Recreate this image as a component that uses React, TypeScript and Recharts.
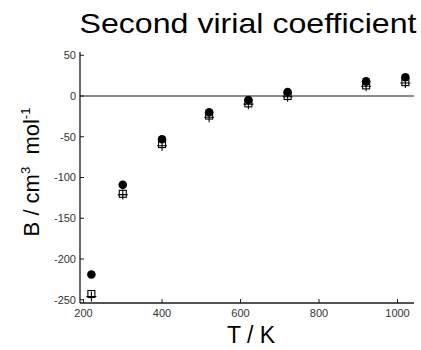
import React from 'react';
import { ScatterChart, Scatter, XAxis, YAxis, ReferenceLine } from 'recharts';

// temperatures (K) and second virial coefficients (cm3/mol)
const temps = [220, 300, 400, 520, 620, 720, 920, 1020];
const circleVals = [-219, -109, -53, -20, -5, 5, 18, 23];
const squareVals = [-243, -120, -59, -24, -9, 0, 13, 17];
const plusVals = [-246, -121, -61, -26, -10, -1, 12, 16];

const xTicks = [200, 400, 600, 800, 1000];
const yTicks = [50, 0, -50, -100, -150, -200, -250];

const W = 421;
const H = 350;
const INK = '#1a1a1a';
const TICK_LEN = 4;

const toPoints = (vals: number[]) => temps.map((t, i) => ({ T: t, B: vals[i] }));

const BottomTick = (props: any) => {
  const { x, y, payload } = props;
  return (
    <g>
      <line x1={x} y1={y - 6} x2={x} y2={y - 6 - TICK_LEN} stroke={INK} />
      <text x={x} y={y} dy="0.71em" textAnchor="middle" fontSize={11} fill="#333">
        {payload.value}
      </text>
    </g>
  );
};

const TopTick = (props: any) => {
  const { x, y } = props;
  return <line x1={x} y1={y} x2={x} y2={y + TICK_LEN} stroke={INK} />;
};

const LeftTick = (props: any) => {
  const { x, y, payload } = props;
  return (
    <g>
      <line x1={x + 4} y1={y} x2={x + 4 + TICK_LEN} y2={y} stroke={INK} />
      <text x={x} y={y} dy="0.35em" textAnchor="end" fontSize={11} fill="#333">
        {payload.value}
      </text>
    </g>
  );
};

const RightTick = (props: any) => {
  const { x, y } = props;
  return <line x1={x} y1={y} x2={x - TICK_LEN} y2={y} stroke={INK} />;
};

const Dot = (props: any) => <circle cx={props.cx} cy={props.cy} r={4.3} fill="#000" />;

const Square = (props: any) => (
  <rect x={props.cx - 3.5} y={props.cy - 3.5} width={7} height={7} fill="none" stroke="#000" strokeWidth={1.1} />
);

const Plus = (props: any) => (
  <path
    d={`M${props.cx - 5},${props.cy}H${props.cx + 5}M${props.cx},${props.cy - 5}V${props.cy + 5}`}
    stroke="#000"
    strokeWidth={1.1}
  />
);

export default function App() {
  return (
    <div style={{ position: 'absolute', left: 0, top: 0, width: W, height: H, background: '#fff', fontFamily: 'Liberation Sans, Arial, sans-serif' }}>
      <ScatterChart width={W} height={H} margin={{ top: 52, right: 7, bottom: 0, left: 0 }}>
        <XAxis
          type="number"
          dataKey="T"
          domain={[191, 1042]}
          ticks={xTicks}
          height={47}
          tickSize={0}
          tickMargin={6}
          tick={<BottomTick />}
          axisLine={{ stroke: INK, strokeWidth: 1.3 }}
        />
        <XAxis
          xAxisId="top"
          orientation="top"
          type="number"
          domain={[191, 1042]}
          ticks={xTicks}
          height={0}
          tickSize={0}
          tickMargin={0}
          tick={<TopTick />}
          axisLine={{ stroke: INK, strokeWidth: 1.3 }}
        />
        <YAxis
          type="number"
          dataKey="B"
          domain={[-254, 54]}
          ticks={yTicks}
          width={80}
          tickSize={0}
          tickMargin={4}
          tick={<LeftTick />}
          axisLine={{ stroke: INK, strokeWidth: 1.3 }}
        />
        <YAxis
          yAxisId="right"
          orientation="right"
          type="number"
          domain={[-254, 54]}
          ticks={yTicks}
          width={0}
          tickSize={0}
          tickMargin={0}
          tick={<RightTick />}
          axisLine={{ stroke: INK, strokeWidth: 1.3 }}
        />
        <ReferenceLine y={0} stroke={INK} strokeWidth={1.2} />
        <Scatter data={toPoints(plusVals)} shape={<Plus />} isAnimationActive={false} />
        <Scatter data={toPoints(squareVals)} shape={<Square />} isAnimationActive={false} />
        <Scatter data={toPoints(circleVals)} shape={<Dot />} isAnimationActive={false} />
      </ScatterChart>
      <svg width={W} height={H} style={{ position: 'absolute', left: 0, top: 0, pointerEvents: 'none' }}>
        <text x={248} y={33} textAnchor="middle" fontSize={28} fill="#000" textLength={337} lengthAdjust="spacingAndGlyphs">
          Second virial coefficient
        </text>
        <text
          transform="translate(39,172) rotate(-90)"
          textAnchor="middle"
          fontSize={22}
          fill="#000"
        >
          B / cm<tspan fontSize={13} dy={-9}>3</tspan>
          <tspan dy={9}>{'\u00a0 mol'}</tspan>
          <tspan fontSize={13} dy={-9}>-1</tspan>
        </text>
        <text x={251} y={343} textAnchor="middle" fontSize={23} fill="#000">
          T / K
        </text>
      </svg>
    </div>
  );
}
